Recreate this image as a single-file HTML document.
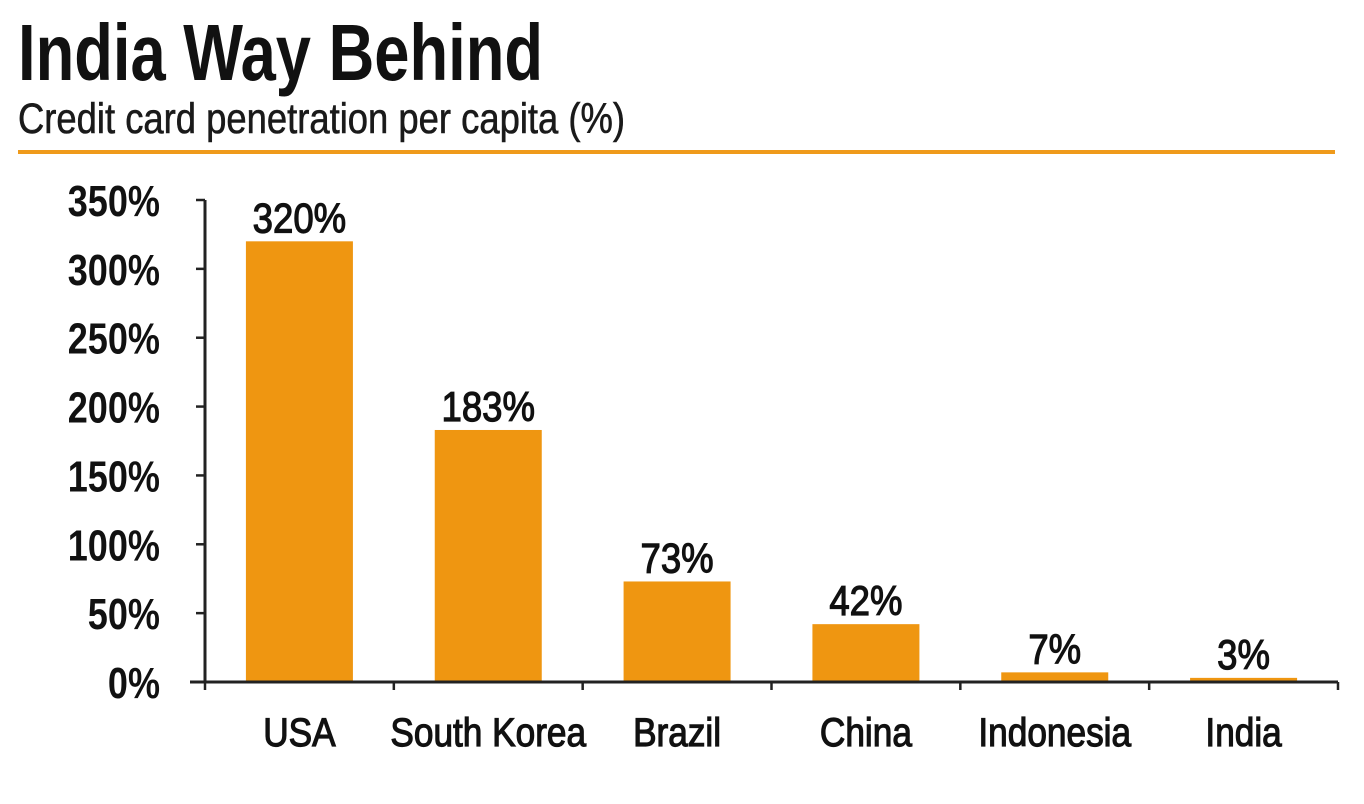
<!DOCTYPE html>
<html><head><meta charset="utf-8">
<style>
html,body{margin:0;padding:0;background:#fff;}
svg{display:block;font-family:"Liberation Sans Narrow","Liberation Sans",sans-serif;}
</style></head>
<body>
<svg id="chart" width="1364" height="804" viewBox="0 0 1364 804">
  <text id="title" x="18" y="80" font-size="80" font-weight="bold" fill="#111">India Way Behind</text>
  <text id="subtitle" x="18" y="133" font-size="43" fill="#1a1a1a" stroke="#1a1a1a" stroke-width="0.6">Credit card penetration per capita (%)</text>
  <rect x="18" y="150" width="1317" height="4" fill="#ef9a1b"></rect>
  <g id="plot"></g>
</svg>
<script>
const categories = ["USA","South Korea","Brazil","China","Indonesia","India"];
const values = [320,183,73,42,7,3];
const valueLabels = ["320%","183%","73%","42%","7%","3%"];
const yTicks = [0,50,100,150,200,250,300,350];
const yTickLabels = ["0%","50%","100%","150%","200%","250%","300%","350%"];

const NS="http://www.w3.org/2000/svg";
const plot=document.getElementById('plot');
const x0=205, x1=1338, y0=682, yTop=200, yMax=350;
const band=(x1-x0)/categories.length;
const barW=107;
function yScale(v){return y0-(v/yMax)*(y0-yTop);}
function xCenter(i){return x0+band*(i+0.5);}
function mk(tag,attrs){const e=document.createElementNS(NS,tag);for(const k in attrs)e.setAttribute(k,attrs[k]);plot.appendChild(e);return e;}
function condense(el,f){const w=el.getComputedTextLength();el.setAttribute('textLength',(w*f).toFixed(1));el.setAttribute('lengthAdjust','spacingAndGlyphs');}

let ya=mk('line',{x1:x0,y1:yTop,x2:x0,y2:y0,stroke:'#222','stroke-width':3});


yTicks.forEach((t,i)=>{
  const y=yScale(t);
  const tk=mk('line',{x1:x0-9,y1:y,x2:x0,y2:y,stroke:'#222','stroke-width':2.5});
  
  
  const tx=mk('text',{x:160,y:y+16,'font-size':44,'font-weight':'bold','text-anchor':'end',fill:'#111'});
  tx.textContent=yTickLabels[i];
  
  
  condense(tx,0.82);
});
categories.forEach((c,i)=>{
  const cx=xCenter(i), y=yScale(values[i]);
  const b=mk('rect',{x:cx-barW/2,y:y,width:barW,height:y0-y,fill:'#ef9611'});
  
  
  const vl=mk('text',{x:cx,y:y-9,'font-size':42,'text-anchor':'middle',fill:'#111',stroke:'#111','stroke-width':1.2});
  vl.textContent=valueLabels[i];
  
  
  condense(vl,0.87);
  const cl=mk('text',{x:cx,y:746,'font-size':40,'text-anchor':'middle',fill:'#111',stroke:'#111','stroke-width':1.2});
  cl.textContent=c;
  
  
  condense(cl,0.88);
});
let xa=mk('line',{x1:190,y1:y0,x2:x1,y2:y0,stroke:'#222','stroke-width':3});


for(let i=0;i<=categories.length;i++){
  const x=x0+band*i;
  const tk=mk('line',{x1:x,y1:y0,x2:x,y2:y0+8,stroke:'#222','stroke-width':2.5});
  
  
}
(function(){const t=document.getElementById('title');t.setAttribute('textLength','525');t.setAttribute('lengthAdjust','spacingAndGlyphs');
const s=document.getElementById('subtitle');s.setAttribute('textLength','607');s.setAttribute('lengthAdjust','spacingAndGlyphs');})();
</script>
</body></html>
